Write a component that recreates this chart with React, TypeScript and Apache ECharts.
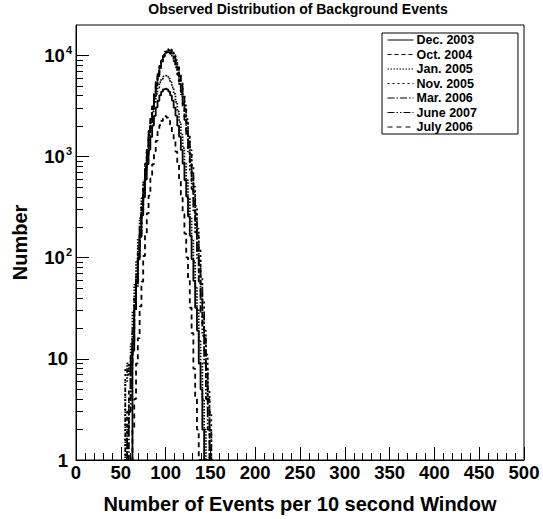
import React, { useEffect, useRef } from "react";
import * as echarts from "echarts";

const chartTitle = "Observed Distribution of Background Events";
const xTitle = "Number of Events per 10 second Window";
const yTitle = "Number";

// bin centres (events per 10 s window)
const bins = [
  54, 56, 58, 60, 62, 64, 66, 68, 70, 72,
  74, 76, 78, 80, 82, 84, 86, 88, 90, 92,
  94, 96, 98, 100, 102, 104, 106, 108, 110, 112,
  114, 116, 118, 120, 122, 124, 126, 128, 130, 132,
  134, 136, 138, 140, 142, 144, 146, 148, 150, 152,
  154,
];

const seriesNames = ["Dec. 2003", "Oct. 2004", "Jan. 2005", "Nov. 2005", "Mar. 2006", "June 2007", "July 2006"];

const dec2003 = [
  0, 0, 0, 0, 0, 12, 31, 57, 100, 161,
  262, 396, 592, 843, 1175, 1565, 2030, 2530, 3065, 3565,
  4035, 4385, 4625, 4700, 4610, 4395, 4020, 3580, 3050, 2540,
  2020, 1575, 1165, 850, 585, 402, 256, 165, 97, 59,
  32, 19, 9, 5, 2, 1, 0, 0, 0, 0,
  0,
];
const oct2004 = [
  0, 1, 3, 5, 11, 19, 40, 68, 125, 205,
  345, 535, 840, 1230, 1790, 2460, 3340, 4330, 5480, 6660,
  7880, 8960, 9920, 10580, 10950, 10930, 10600, 9900, 8980, 7860,
  6680, 5460, 4350, 3320, 2480, 1770, 1240, 830, 545, 338,
  210, 120, 72, 40, 22, 12, 6, 3, 1, 0,
  0,
];
const jan2005 = [
  0, 6, 9, 7, 14, 30, 54, 91, 154, 246,
  388, 582, 855, 1200, 1655, 2185, 2805, 3465, 4175, 4820,
  5430, 5880, 6200, 6300, 6180, 5900, 5410, 4840, 4160, 3480,
  2790, 2195, 1645, 1210, 850, 586, 383, 249, 151, 93,
  52, 31, 15, 9, 4, 2, 1, 0, 0, 0,
  0,
];
const nov2005 = [
  0, 8, 7, 9, 11, 21, 36, 67, 114, 198,
  318, 512, 780, 1170, 1680, 2360, 3180, 4190, 5300, 6540,
  7770, 8990, 10030, 10880, 11390, 11600, 11400, 10860, 10050, 8970,
  7790, 6520, 5320, 4170, 3200, 2340, 1690, 1160, 790, 505,
  325, 194, 118, 64, 38, 19, 11, 5, 3, 1,
  0,
];
const mar2006 = [
  0, 0, 0, 3, 8, 14, 30, 52, 96, 162,
  276, 440, 695, 1045, 1535, 2160, 2970, 3920, 5040, 6220,
  7490, 8660, 9740, 10560, 11130, 11300, 11110, 10580, 9720, 8680,
  7470, 6240, 5020, 3940, 2950, 2170, 1525, 1050, 690, 446,
  272, 166, 94, 55, 28, 16, 8, 4, 2, 0,
  0,
];
const june2007 = [
  0, 0, 2, 4, 9, 15, 31, 55, 103, 173,
  295, 470, 745, 1112, 1635, 2290, 3140, 4100, 5240, 6410,
  7630, 8740, 9700, 10370, 10750, 10730, 10390, 9680, 8760, 7610,
  6430, 5220, 4120, 3120, 2300, 1625, 1120, 736, 478, 290,
  178, 99, 58, 29, 17, 9, 4, 2, 1, 0,
  0,
];
const july2006 = [
  0, 0, 0, 0, 0, 2, 4, 9, 16, 33,
  58, 104, 170, 274, 412, 608, 840, 1130, 1430, 1760,
  2040, 2250, 2420, 2510, 2430, 2270, 2060, 1745, 1440, 1120,
  848, 600, 418, 270, 173, 101, 60, 32, 18, 8,
  4, 2, 1, 0, 0, 0, 0, 0, 0, 0,
  0,
];

const seriesValues = [dec2003, oct2004, jan2005, nov2005, mar2006, june2007, july2006];

const yMajorTicks = [1, 10, 100, 1000, 10000];
const yMinorTicks = [
  2, 3, 4, 5, 6, 7, 8, 9,
  20, 30, 40, 50, 60, 70, 80, 90,
  200, 300, 400, 500, 600, 700, 800, 900,
  2000, 3000, 4000, 5000, 6000, 7000, 8000, 9000,
];

const FONT = "'Liberation Sans', Arial, Helvetica, sans-serif";
const dashes: any[] = ["solid", [4, 3], [1.5, 1.5], [2, 3], [7, 2, 1.5, 2], [7, 2, 1.5, 2, 1.5, 2], [5, 4]];

const Y_MIN = 1;

function toData(vals: number[]) {
  return bins.map((x, i) => {
    const v = vals[i];
    if (v > 0) return [x, v];
    const near = (i > 0 && vals[i - 1] > 0) || (i < vals.length - 1 && vals[i + 1] > 0);
    return near ? [x, Y_MIN] : [x, null];
  });
}

export default function App() {
  const ref = useRef<HTMLDivElement>(null);
  useEffect(() => {
    if (!ref.current) return;
    const chart = echarts.init(ref.current, null, { renderer: "svg" });
    const series = seriesNames.map((name, i) => ({
      name,
      type: "line",
      step: "middle",
      symbol: "none",
      showSymbol: false,
      connectNulls: false,
      xAxisIndex: 0,
      yAxisIndex: 0,
      data: toData(seriesValues[i]),
      lineStyle: { color: "#000", width: 1.8, type: dashes[i] },
      itemStyle: { color: "#000" },
      z: 3,
    }));
    chart.setOption({
      animation: false,
      backgroundColor: "#fff",
      textStyle: { fontFamily: FONT },
      grid: {
        left: 76,
        top: 25,
        right: 19,
        bottom: 59,
        show: true,
        borderColor: "#000",
        borderWidth: 1,
        backgroundColor: "transparent",
      },
      graphic: [
        {
          type: "text",
          x: 298,
          y: 2,
          style: {
            text: chartTitle,
            textAlign: "center",
            fontFamily: FONT,
            fontWeight: "bold",
            fontSize: 14,
            fill: "#000",
          },
        },
      ],
      legend: {
        show: true,
        orient: "vertical",
        left: 382,
        top: 33,
        data: seriesNames,
        itemWidth: 26,
        itemHeight: 14,
        itemGap: 0.5,
        padding: [0, 41, 0, 5],
        backgroundColor: "#fff",
        borderColor: "#000",
        borderWidth: 1,
        borderRadius: 0,
        itemStyle: { opacity: 0, borderWidth: 0 },
        lineStyle: { width: 1 },
        textStyle: {
          fontFamily: FONT,
          fontWeight: "bold",
          fontSize: 12.5,
          color: "#000",
          lineHeight: 14,
          padding: [0, 0, 0, -2],
        },
      },
      xAxis: {
        type: "value",
        min: 0,
        max: 500,
        interval: 50,
        name: xTitle,
        nameLocation: "middle",
        nameGap: 34,
        nameTextStyle: { fontFamily: FONT, fontWeight: "bold", fontSize: 20, color: "#000" },
        axisLine: { show: true, lineStyle: { color: "#000", width: 1 } },
        axisTick: { show: true, inside: true, length: 13, lineStyle: { color: "#000" } },
        minorTick: { show: true, splitNumber: 5, length: 7, lineStyle: { color: "#000" } },
        splitLine: { show: false },
        minorSplitLine: { show: false },
        axisLabel: {
          margin: 3,
          fontFamily: FONT,
          fontWeight: "bold",
          fontSize: 18.5,
          color: "#000",
          showMinLabel: true,
          showMaxLabel: true,
        },
      },
      yAxis: [
        {
          type: "log",
          logBase: 10,
          min: Y_MIN,
          max: 20000,
          name: yTitle,
          nameLocation: "middle",
          nameGap: 46,
          nameRotate: 90,
          nameTextStyle: { fontFamily: FONT, fontWeight: "bold", fontSize: 20, color: "#000" },
          axisLine: { show: true, lineStyle: { color: "#000", width: 1 } },
          axisTick: { show: true, inside: true, length: 13, customValues: yMajorTicks, lineStyle: { color: "#000" } },
          splitLine: { show: false },
          axisLabel: {
            customValues: yMajorTicks,
            margin: 4,
            color: "#000",
            showMinLabel: true,
            formatter: (v: number) => {
              const e = Math.round(Math.log10(v));
              if (e <= 1) return `{p|${v}}`;
              return `{b|10}{s|${e}}`;
            },
            rich: {
              p: { fontFamily: FONT, fontWeight: "bold", fontSize: 18.5, color: "#000", padding: [0, 4, 0, 0] },
              b: { fontFamily: FONT, fontWeight: "bold", fontSize: 18.5, color: "#000", lineHeight: 22 },
              s: { fontFamily: FONT, fontWeight: "bold", fontSize: 11, color: "#000", verticalAlign: "top", lineHeight: 14, padding: [0, 0, 0, 1] },
            },
          },
        },
        {
          type: "log",
          logBase: 10,
          min: Y_MIN,
          max: 20000,
          position: "left",
          axisLine: { show: false },
          axisTick: { show: true, inside: true, length: 7, customValues: yMinorTicks, lineStyle: { color: "#000" } },
          axisLabel: { show: false },
          splitLine: { show: false },
        },
      ],
      series,
    });
    return () => chart.dispose();
  }, []);
  return (
    <div
      ref={ref}
      style={{ position: "fixed", left: 0, top: 0, width: 543, height: 519, background: "#fff" }}
    />
  );
}
